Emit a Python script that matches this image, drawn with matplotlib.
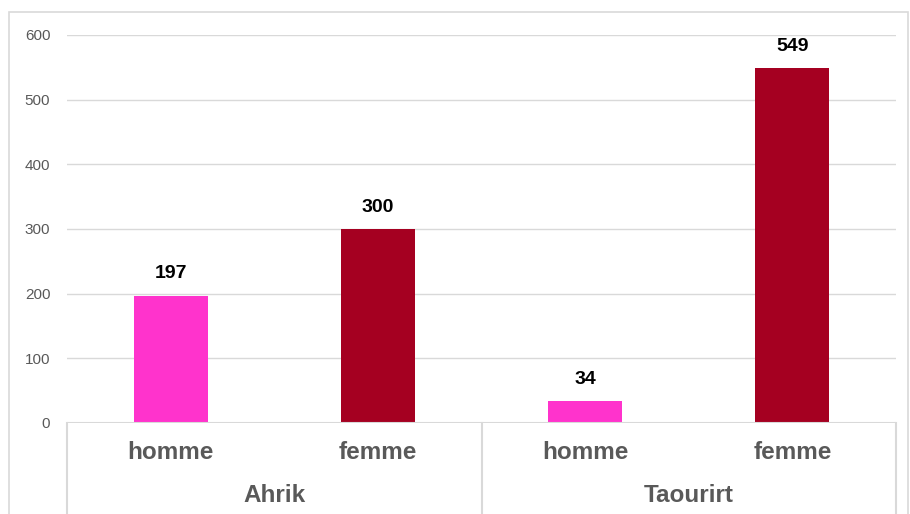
import matplotlib.pyplot as plt
from matplotlib.patches import Rectangle
from matplotlib import transforms

# data
groups = ["Ahrik", "Taourirt"]
sexes = ["homme", "femme"]
values = [197, 300, 34, 549]
colors = ["#FF33CC", "#A50021", "#FF33CC", "#A50021"]
yticks = [0, 100, 200, 300, 400, 500, 600]

W, H = 910, 514
fig = plt.figure(figsize=(W / 100, H / 100), dpi=100)
plt.rcParams['font.family'] = ['Liberation Sans', 'DejaVu Sans']

# outer chart border
fig.patches.append(Rectangle((9 / W, -0.1), (899 / W), 1.1 - 12 / H, transform=fig.transFigure,
                             fill=False, edgecolor="#d9d9d9", linewidth=1.2))

left, right, bottom, top = 67, 896, 423, 35
ax = fig.add_axes([left / W, (H - bottom) / H, (right - left) / W, (bottom - top) / H])

x = list(range(len(values)))
ax.bar(x, values, width=0.357, color=colors, zorder=3)
ax.set_xlim(-0.5, len(values) - 0.5)
ax.set_ylim(0, 600)

for s in ax.spines.values():
    s.set_visible(False)
ax.set_yticks(yticks)
ax.set_yticklabels([str(t) for t in yticks], fontsize=11, color="#595959")
ax.tick_params(axis="y", length=0, pad=12)
ax.set_xticks([])
ax.yaxis.grid(True, color="#d9d9d9", linewidth=1)
ax.set_axisbelow(True)
ax.axhline(0, color="#d9d9d9", linewidth=1.5, zorder=4)

for xi, v in zip(x, values):
    ax.annotate(str(v), (xi, v), xytext=(0, 9.5), textcoords="offset points",
                ha="center", va="bottom", fontsize=14, fontweight="bold", color="black")

trans = transforms.blended_transform_factory(ax.transData, ax.transAxes)
for i, v in enumerate(values):
    ax.text(i, -0.077, sexes[i % 2], transform=trans, ha="center", va="center",
            fontsize=17.5, fontweight="bold", color="#595959")
for g, name in enumerate(groups):
    ax.text(2 * g + 0.5, -0.188, name, transform=trans, ha="center", va="center",
            fontsize=17.5, fontweight="bold", color="#595959")

# category separators
for sx in [-0.5, 1.5, 3.5]:
    ax.plot([sx, sx], [0, -0.3], transform=trans, color="#d9d9d9", linewidth=1.5, clip_on=False)

fig.savefig("out.png", dpi=100)
